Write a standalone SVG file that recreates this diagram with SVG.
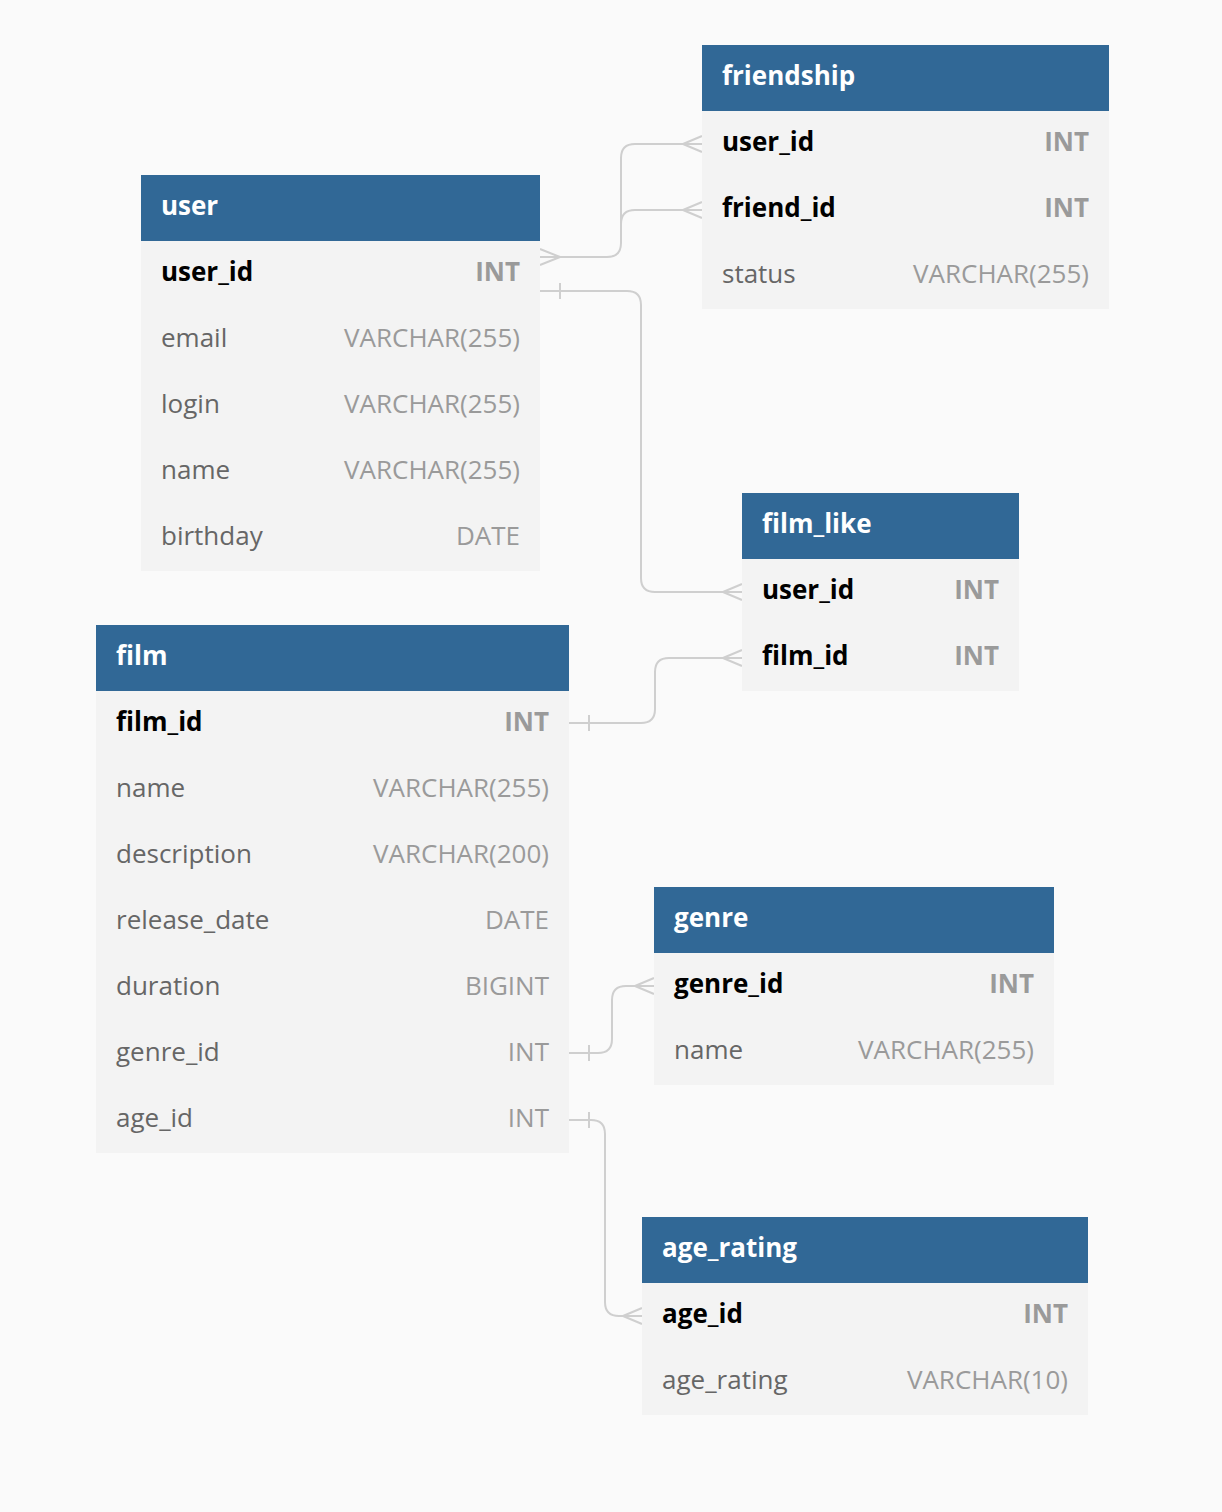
<svg xmlns="http://www.w3.org/2000/svg" width="1222" height="1512" viewBox="0 0 1222 1512">
<style>
.bg{fill:#fafafa}
.hd{fill:#316896}
.bd{fill:#f3f3f3}
.title{font-family:"Open Sans","Noto Sans",sans-serif;font-size:26px;font-weight:bold;fill:#ffffff}
.pk{font-family:"Open Sans","Noto Sans",sans-serif;font-size:26px;font-weight:bold;fill:#000000}
.pkt{font-family:"Open Sans","Noto Sans",sans-serif;font-size:26px;font-weight:bold;fill:#9a9a9a;text-anchor:end}
.fn{font-family:"Open Sans","Noto Sans",sans-serif;font-size:26px;fill:#666666}
.ft{font-family:"Open Sans","Noto Sans",sans-serif;font-size:26px;fill:#9a9a9a;text-anchor:end}
.cn{fill:none;stroke:#cfcfcf;stroke-width:2}
</style>
<rect class="bg" x="0" y="0" width="1222" height="1512"/>

<g id="connectors">
  <path class="cn" d="M540,257 H607 Q621,257 621,243 V158 Q621,144 635,144 H702"/>
  <path class="cn" d="M621,240 V224 Q621,210 635,210 H702"/>
  <path class="cn" d="M540,249 L560,257 M540,265 L560,257"/>
  <path class="cn" d="M702,136 L683,144 M702,152 L683,144"/>
  <path class="cn" d="M702,202 L683,210 M702,218 L683,210"/>

  <path class="cn" d="M540,291 H627 Q641,291 641,305 V578 Q641,592 655,592 H742"/>
  <path class="cn" d="M560,283 V299"/>
  <path class="cn" d="M742,584 L723,592 M742,600 L723,592"/>

  <path class="cn" d="M569,723 H641 Q655,723 655,709 V672 Q655,658 669,658 H742"/>
  <path class="cn" d="M589,715 V731"/>
  <path class="cn" d="M742,650 L723,658 M742,666 L723,658"/>

  <path class="cn" d="M569,1053 H598 Q612,1053 612,1039 V1000 Q612,986 626,986 H654"/>
  <path class="cn" d="M589,1045 V1061"/>
  <path class="cn" d="M654,978 L635,986 M654,994 L635,986"/>

  <path class="cn" d="M569,1120 H591 Q605,1120 605,1134 V1302 Q605,1316 619,1316 H642"/>
  <path class="cn" d="M589,1112 V1128"/>
  <path class="cn" d="M642,1308 L623,1316 M642,1324 L623,1316"/>
</g>

<g id="user">
  <rect class="hd" x="141" y="175" width="399" height="66"/>
  <rect class="bd" x="141" y="241" width="399" height="330"/>
  <text class="title" x="161" y="215">user</text>
  <text class="pk" x="161" y="281">user_id</text><text class="pkt" x="520" y="281">INT</text>
  <text class="fn" x="161" y="347">email</text><text class="ft" x="520" y="347">VARCHAR(255)</text>
  <text class="fn" x="161" y="413">login</text><text class="ft" x="520" y="413">VARCHAR(255)</text>
  <text class="fn" x="161" y="479">name</text><text class="ft" x="520" y="479">VARCHAR(255)</text>
  <text class="fn" x="161" y="545">birthday</text><text class="ft" x="520" y="545">DATE</text>
</g>

<g id="friendship">
  <rect class="hd" x="702" y="45" width="407" height="66"/>
  <rect class="bd" x="702" y="111" width="407" height="198"/>
  <text class="title" x="722" y="85">friendship</text>
  <text class="pk" x="722" y="151">user_id</text><text class="pkt" x="1089" y="151">INT</text>
  <text class="pk" x="722" y="217">friend_id</text><text class="pkt" x="1089" y="217">INT</text>
  <text class="fn" x="722" y="283">status</text><text class="ft" x="1089" y="283">VARCHAR(255)</text>
</g>

<g id="film_like">
  <rect class="hd" x="742" y="493" width="277" height="66"/>
  <rect class="bd" x="742" y="559" width="277" height="132"/>
  <text class="title" x="762" y="533">film_like</text>
  <text class="pk" x="762" y="599">user_id</text><text class="pkt" x="999" y="599">INT</text>
  <text class="pk" x="762" y="665">film_id</text><text class="pkt" x="999" y="665">INT</text>
</g>

<g id="film">
  <rect class="hd" x="96" y="625" width="473" height="66"/>
  <rect class="bd" x="96" y="691" width="473" height="462"/>
  <text class="title" x="116" y="665">film</text>
  <text class="pk" x="116" y="731">film_id</text><text class="pkt" x="549" y="731">INT</text>
  <text class="fn" x="116" y="797">name</text><text class="ft" x="549" y="797">VARCHAR(255)</text>
  <text class="fn" x="116" y="863">description</text><text class="ft" x="549" y="863">VARCHAR(200)</text>
  <text class="fn" x="116" y="929">release_date</text><text class="ft" x="549" y="929">DATE</text>
  <text class="fn" x="116" y="995">duration</text><text class="ft" x="549" y="995">BIGINT</text>
  <text class="fn" x="116" y="1061">genre_id</text><text class="ft" x="549" y="1061">INT</text>
  <text class="fn" x="116" y="1127">age_id</text><text class="ft" x="549" y="1127">INT</text>
</g>

<g id="genre">
  <rect class="hd" x="654" y="887" width="400" height="66"/>
  <rect class="bd" x="654" y="953" width="400" height="132"/>
  <text class="title" x="674" y="927">genre</text>
  <text class="pk" x="674" y="993">genre_id</text><text class="pkt" x="1034" y="993">INT</text>
  <text class="fn" x="674" y="1059">name</text><text class="ft" x="1034" y="1059">VARCHAR(255)</text>
</g>

<g id="age_rating">
  <rect class="hd" x="642" y="1217" width="446" height="66"/>
  <rect class="bd" x="642" y="1283" width="446" height="132"/>
  <text class="title" x="662" y="1257">age_rating</text>
  <text class="pk" x="662" y="1323">age_id</text><text class="pkt" x="1068" y="1323">INT</text>
  <text class="fn" x="662" y="1389">age_rating</text><text class="ft" x="1068" y="1389">VARCHAR(10)</text>
</g>
</svg>
